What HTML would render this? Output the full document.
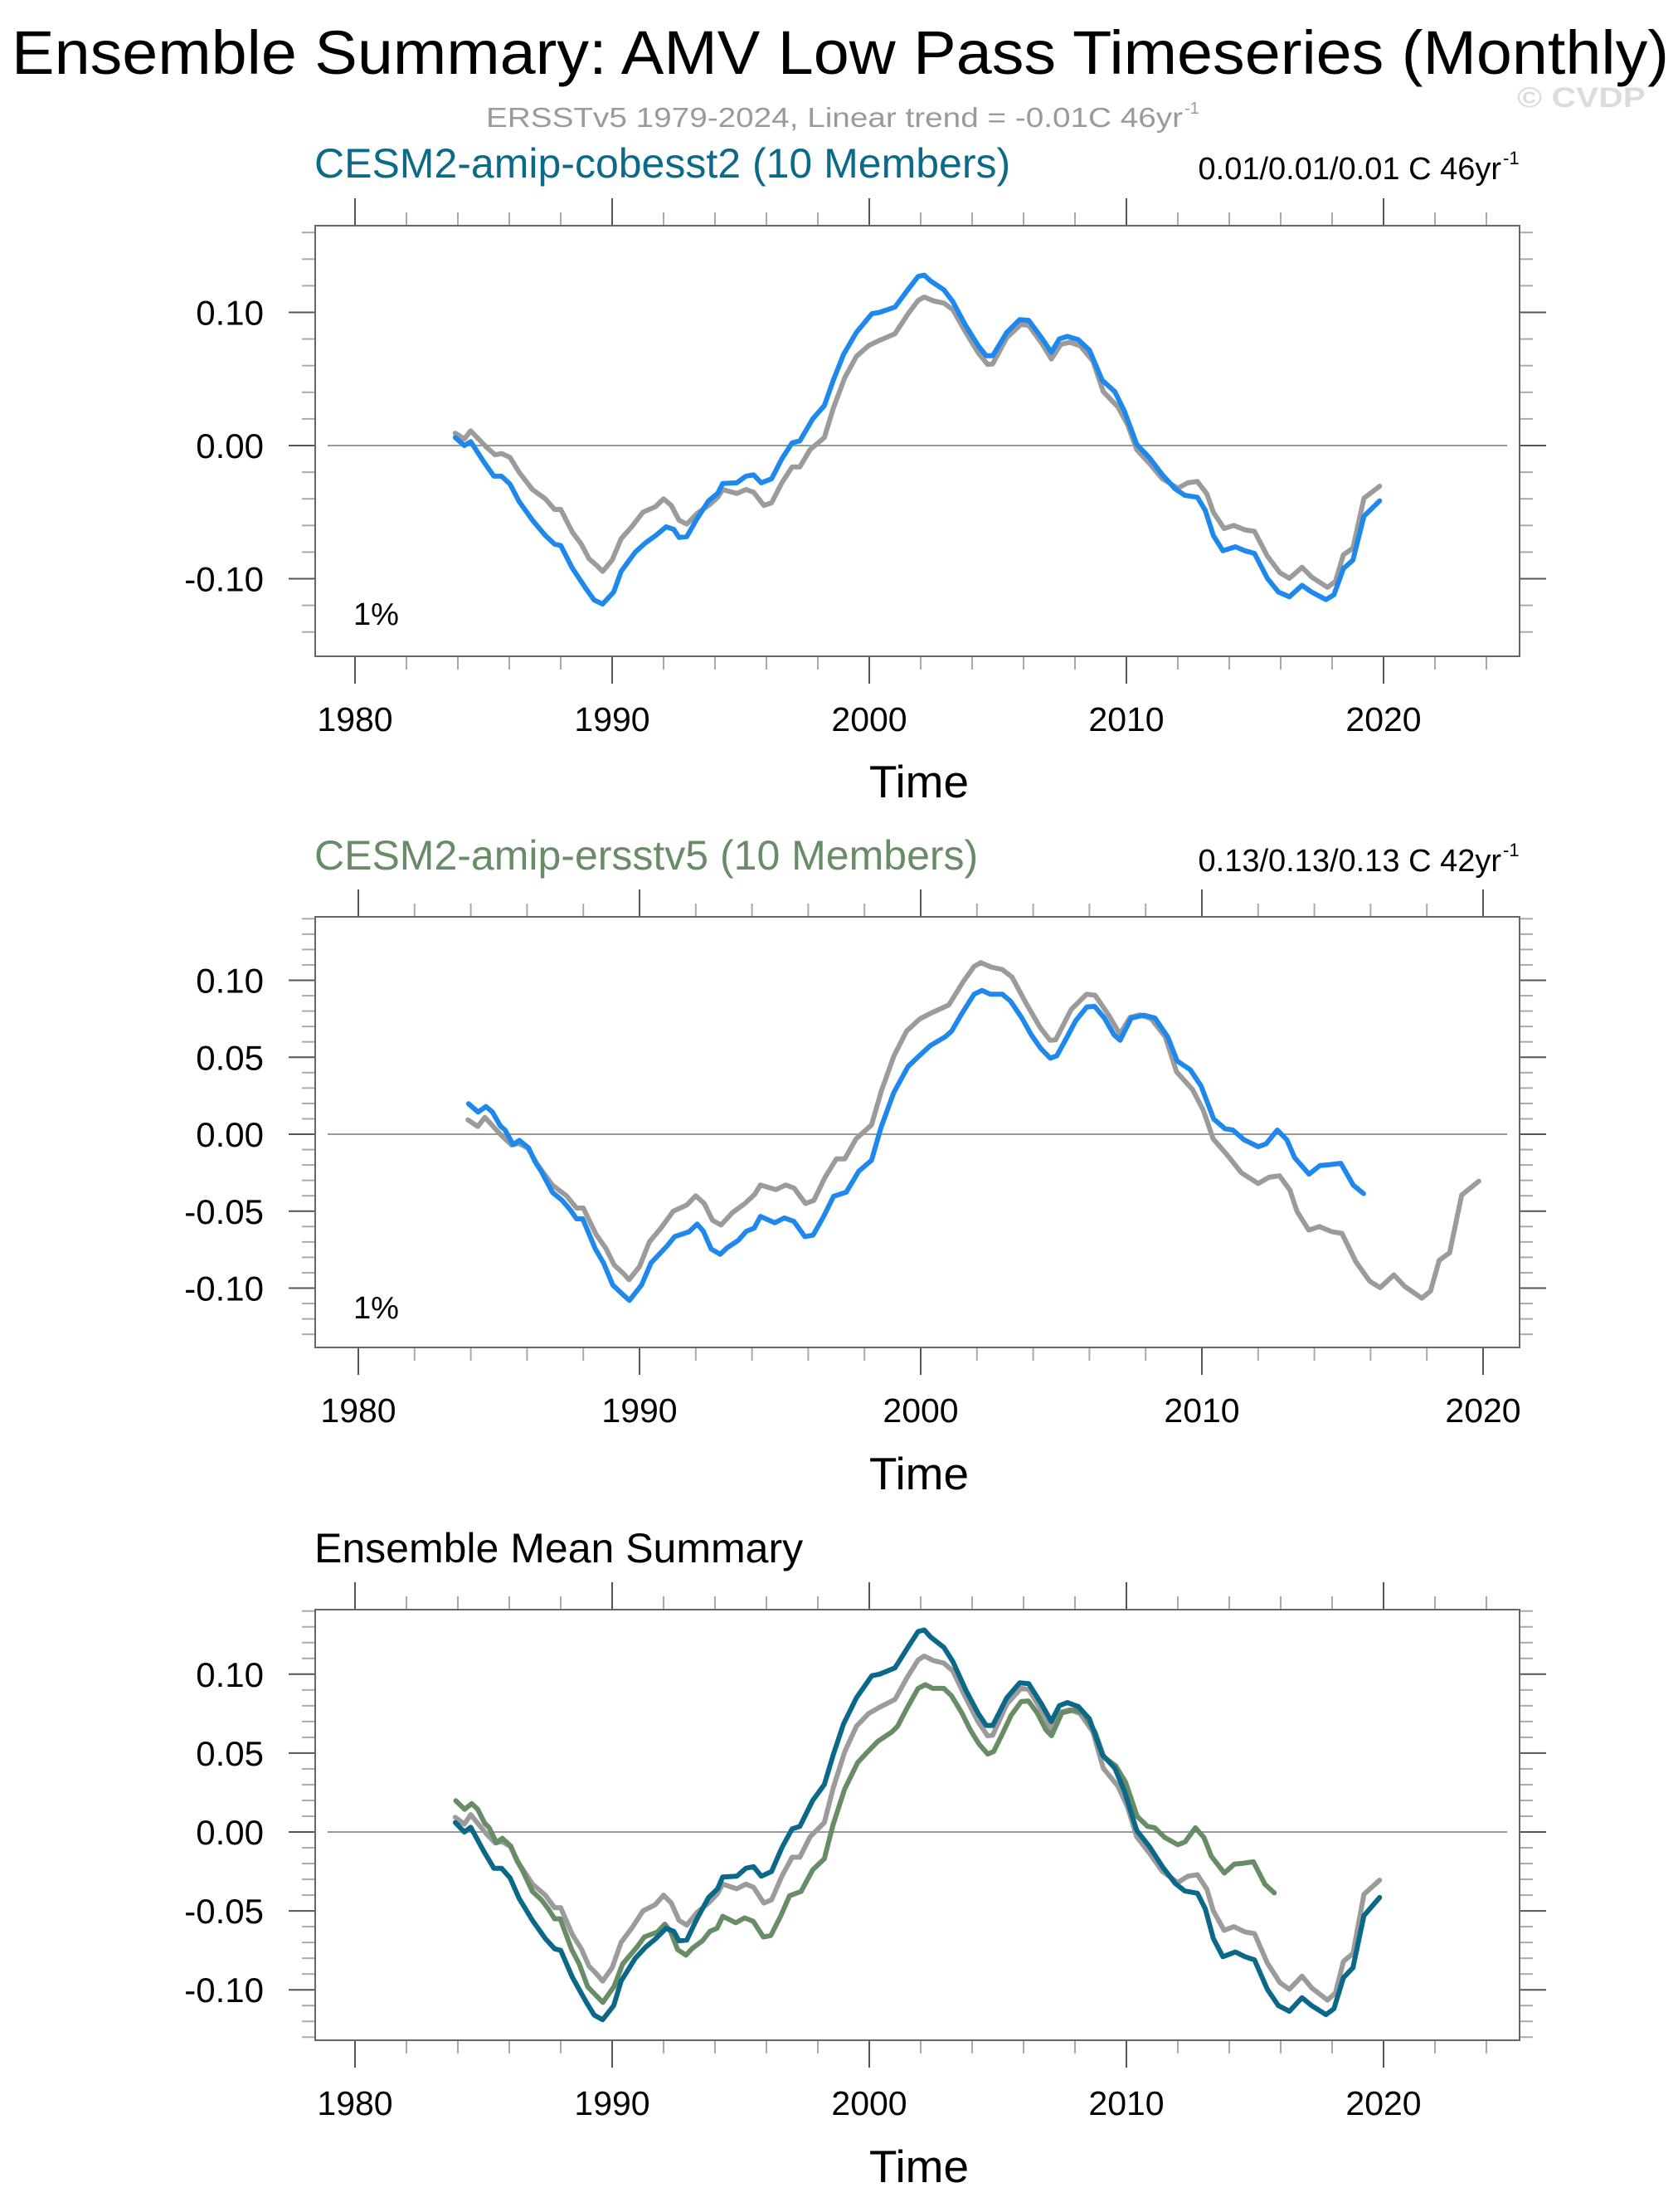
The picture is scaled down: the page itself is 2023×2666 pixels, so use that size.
<!DOCTYPE html>
<html><head><meta charset="utf-8">
<style>
html,body{margin:0;padding:0;background:#fff;}
svg{display:block;font-family:"Liberation Sans",sans-serif;}
</style></head>
<body>
<svg id="chart" width="2023" height="2666" viewBox="0 0 2023 2666" xmlns="http://www.w3.org/2000/svg">
<rect width="2023" height="2666" fill="#fff"/>
<text x="14" y="89" font-size="74" textLength="1998" lengthAdjust="spacingAndGlyphs" fill="#000">Ensemble Summary: AMV Low Pass Timeseries (Monthly)</text>
<text x="586" y="153" font-size="33" fill="#9a9a9a" textLength="840" lengthAdjust="spacingAndGlyphs">ERSSTv5 1979-2024, Linear trend = -0.01C 46yr</text>
<text x="1428" y="137" font-size="20" fill="#9a9a9a">-1</text>
<text x="1829" y="129" font-size="34" font-weight="bold" fill="#dcdcdc" textLength="155" lengthAdjust="spacingAndGlyphs">© CVDP</text>
<g id="plots"></g>
</svg>
<script>
// ---- data ----
const obsYears=[1983.9,1984.25,1984.5,1985.1,1985.45,1985.7,1986.03,1986.38,1986.9,1987.4,1987.76,1988.0,1988.45,1988.8,1989.1,1989.4,1989.63,1990.0,1990.35,1990.76,1991.2,1991.68,1992.0,1992.3,1992.6,1992.9,1993.3,1993.75,1994.1,1994.3,1994.85,1995.2,1995.5,1995.9,1996.2,1996.6,1997.0,1997.3,1997.7,1998.25,1998.6,1999.05,1999.5,1999.97,2000.4,2001.0,2001.5,2001.9,2002.14,2002.5,2002.9,2003.25,2003.75,2004.24,2004.6,2004.8,2005.35,2005.9,2006.2,2006.7,2007.08,2007.45,2007.8,2008.2,2008.7,2009.1,2009.67,2010.05,2010.4,2010.9,2011.4,2012.0,2012.39,2012.76,2013.13,2013.38,2013.8,2014.18,2014.61,2014.98,2015.48,2015.97,2016.34,2016.83,2017.2,2017.82,2018.13,2018.44,2018.81,2019.24,2019.85];
const obsVals=[0.0093,0.005,0.011,-0.001,-0.007,-0.006,-0.009,-0.020,-0.033,-0.040,-0.048,-0.048,-0.065,-0.074,-0.085,-0.090,-0.0945,-0.086,-0.070,-0.061,-0.050,-0.046,-0.040,-0.045,-0.056,-0.059,-0.051,-0.045,-0.039,-0.033,-0.036,-0.033,-0.035,-0.045,-0.043,-0.028,-0.016,-0.016,-0.003,0.006,0.028,0.051,0.067,0.075,0.079,0.084,0.0987,0.109,0.1115,0.1086,0.107,0.102,0.085,0.0696,0.061,0.0613,0.081,0.091,0.0903,0.077,0.065,0.076,0.0775,0.075,0.0633,0.0405,0.029,0.0156,-0.003,-0.0135,-0.025,-0.032,-0.028,-0.027,-0.0363,-0.050,-0.0623,-0.060,-0.0633,-0.0644,-0.083,-0.0955,-0.0997,-0.0914,-0.0987,-0.1065,-0.102,-0.082,-0.077,-0.0395,-0.0305];
const cobYears=[1983.9,1984.25,1984.5,1985.0,1985.4,1985.7,1986.03,1986.38,1986.9,1987.4,1987.76,1988.0,1988.45,1989.0,1989.3,1989.63,1990.06,1990.35,1990.9,1991.3,1991.7,1992.1,1992.4,1992.6,1992.9,1993.3,1993.75,1994.1,1994.3,1994.85,1995.2,1995.5,1995.8,1996.2,1996.6,1997.0,1997.3,1997.8,1998.25,1998.6,1999.0,1999.5,2000.1,2000.4,2001.0,2001.5,2001.9,2002.14,2002.39,2002.9,2003.25,2003.75,2004.24,2004.55,2004.8,2005.35,2005.85,2006.2,2006.7,2007.08,2007.39,2007.7,2008.13,2008.56,2009.06,2009.55,2009.92,2010.4,2010.9,2011.4,2011.9,2012.27,2012.76,2013.07,2013.38,2013.75,2014.24,2014.61,2014.98,2015.48,2015.91,2016.34,2016.83,2017.2,2017.76,2018.07,2018.44,2018.81,2019.24,2019.85];
const cobVals=[0.006,0.000,0.003,-0.012,-0.023,-0.023,-0.029,-0.042,-0.056,-0.0675,-0.074,-0.075,-0.092,-0.108,-0.116,-0.119,-0.110,-0.0945,-0.080,-0.073,-0.0675,-0.061,-0.063,-0.069,-0.0685,-0.055,-0.0415,-0.036,-0.0285,-0.028,-0.023,-0.022,-0.028,-0.025,-0.010,0.002,0.0035,0.020,0.030,0.049,0.0685,0.085,0.099,0.100,0.104,0.117,0.127,0.128,0.1235,0.117,0.108,0.090,0.075,0.0675,0.0675,0.085,0.0945,0.094,0.081,0.070,0.080,0.082,0.0795,0.0717,0.049,0.0405,0.026,0.001,-0.0093,-0.022,-0.0326,-0.0374,-0.0388,-0.0488,-0.0675,-0.079,-0.076,-0.079,-0.081,-0.0997,-0.110,-0.1136,-0.105,-0.110,-0.1157,-0.112,-0.0924,-0.086,-0.053,-0.0415];
const ersYears=[1983.92,1984.26,1984.54,1984.77,1985.05,1985.22,1985.5,1985.73,1986.06,1986.29,1986.5,1986.9,1987.25,1987.53,1987.76,1987.98,1988.43,1988.72,1989.05,1989.34,1989.64,1990.07,1990.41,1990.97,1991.25,1991.76,1992.05,1992.27,1992.55,1992.87,1993.12,1993.51,1993.8,1994.08,1994.3,1994.81,1995.15,1995.49,1995.88,1996.17,1996.56,1996.9,1997.35,1997.8,1998.25,1998.59,1999.04,1999.55,1999.89,2000.34,2000.88,2001.1,2001.45,2001.9,2002.18,2002.47,2002.9,2003.2,2003.6,2003.93,2004.27,2004.61,2004.84,2005.17,2005.51,2005.91,2006.19,2006.53,2006.87,2007.09,2007.49,2007.94,2008.33,2008.79,2009.12,2009.58,2009.97,2010.42,2010.82,2011.1,2011.5,2012.0,2012.28,2012.68,2013.02,2013.3,2013.81,2014.2,2014.54,2014.94,2015.39,2015.75];
const ersVals=[0.0198,0.0144,0.018,0.0144,0.0054,0.0027,-0.0068,-0.004,-0.009,-0.018,-0.024,-0.0377,-0.043,-0.049,-0.055,-0.055,-0.0746,-0.0836,-0.098,-0.103,-0.108,-0.098,-0.0836,-0.0728,-0.0665,-0.0634,-0.0584,-0.063,-0.0746,-0.078,-0.0737,-0.069,-0.063,-0.061,-0.0534,-0.0575,-0.0544,-0.0566,-0.0665,-0.0656,-0.053,-0.0404,-0.0377,-0.024,-0.017,0.0045,0.027,0.044,0.050,0.0575,0.0634,0.067,0.078,0.091,0.0934,0.091,0.091,0.0863,0.0755,0.0647,0.0557,0.0494,0.051,0.062,0.0737,0.0827,0.083,0.0755,0.0647,0.061,0.0755,0.0773,0.0755,0.063,0.0476,0.042,0.0314,0.0099,0.0036,0.0027,-0.0036,-0.0081,-0.0063,0.0027,-0.0036,-0.0153,-0.026,-0.0203,-0.0198,-0.0189,-0.0332,-0.0386];
const xTickYears=[1980,1990,2000,2010,2020];
const yTicksP1=[0.10,0.00,-0.10];
const yTicksP23=[0.10,0.05,0.00,-0.05,-0.10];

const NS="http://www.w3.org/2000/svg";
const root=document.getElementById('plots');
function mk(tag,attrs,parent){const e=document.createElementNS(NS,tag);for(const k in attrs)e.setAttribute(k,attrs[k]);(parent||root).appendChild(e);return e;}

const GREY="#9b9b9b", BLUE="#1e88ec", TEAL="#0b6888", GREEN="#688c66";

function panel(cfg){
  const g=mk('g',{});
  
  
  const L=380,R=1832,T=cfg.top,B=cfg.bottom;
  const xs=y=>cfg.x1980+(y-1980)*cfg.pxYear;
  const ys=v=>cfg.y0-v*cfg.pxUnit;
  const t=mk('text',{x:379,y:cfg.titleY,'font-size':50,fill:cfg.titleColor},g);
  t.textContent=cfg.title;
  
  
  if(cfg.right){
    const rt=mk('text',{x:1810,y:cfg.titleY+2,'font-size':38,'text-anchor':'end',fill:'#000'},g);
    rt.textContent=cfg.right;
    
    
    const sup=mk('text',{x:1812,y:cfg.titleY-16,'font-size':22,fill:'#000'},g);
    sup.textContent='-1';
    
    
  }
  for(let yr=1978;yr<=2030;yr+=2){
    const x=xs(yr); if(x<L-1||x>R+1)continue;
    const major=yr%10===0;
    const len=major?33:16;
    const c=major?'#555':'#aaa';
    const a=mk('line',{x1:x,x2:x,y1:T,y2:T-len,stroke:c,'stroke-width':2},g);
    
    
    const b=mk('line',{x1:x,x2:x,y1:B,y2:B+len,stroke:c,'stroke-width':2},g);
    
    
  }
  xTickYears.forEach(yr=>{
    const lb=mk('text',{x:xs(yr),y:cfg.xLabY,'font-size':41,'text-anchor':'middle',fill:'#000'},g);
    lb.textContent=String(yr);
    
    
  });
  const xt=mk('text',{x:1108,y:cfg.timeY,'font-size':55,'text-anchor':'middle',fill:'#000'},g);
  xt.textContent='Time';
  
  
  const step=cfg.minorStep;
  for(let i=-20;i<=20;i++){
    const v=Math.round(i*step*1000)/1000;
    const y=ys(v); if(y<T-1||y>B+1)continue;
    const major=cfg.yTicks.some(m=>Math.abs(m-v)<1e-6);
    const len=major?32:16, c=major?'#555':'#aaa';
    const a=mk('line',{x1:L,x2:L-len,y1:y,y2:y,stroke:c,'stroke-width':2},g);
    
    
    const b=mk('line',{x1:R,x2:R+len,y1:y,y2:y,stroke:c,'stroke-width':2},g);
    
    
  }
  cfg.yTicks.forEach(v=>{
    const lb=mk('text',{x:318,y:ys(v)+15,'font-size':42,'text-anchor':'end',fill:'#000'},g);
    lb.textContent=v.toFixed(2);
    
    
  });
  const z=mk('line',{x1:L+15,x2:R-15,y1:ys(0),y2:ys(0),stroke:'#999','stroke-width':2},g);
  
  
  const fr=mk('rect',{x:L,y:T,width:R-L,height:B-T,fill:'none',stroke:'#666','stroke-width':2},g);
  
  
  if(cfg.pct){
    const p=mk('text',{x:426,y:cfg.pctY,'font-size':38,fill:'#000'},g);
    p.textContent='1%';
    
    
  }
  cfg.series.forEach(s=>{
    const d=s.years.map((yr,i)=>(i?'L':'M')+xs(yr).toFixed(1)+' '+ys(s.vals[i]).toFixed(1)).join(' ');
    const p=mk('path',{d:d,fill:'none',stroke:s.color,'stroke-width':6,'stroke-linejoin':'round','stroke-linecap':'round'},g);
    
    
  });
}

panel({name:'cobesst2-panel',top:272,bottom:791,x1980:428,pxYear:31,y0:537,pxUnit:1605,
  title:'CESM2-amip-cobesst2 (10 Members)',titleColor:'#0b6a8a',titleY:214,
  right:'0.01/0.01/0.01 C 46yr',xLabY:881,timeY:961,yTicks:yTicksP1,minorStep:0.02,pct:true,pctY:753,
  series:[{years:obsYears,vals:obsVals,color:GREY,name:'obs-line'},{years:cobYears,vals:cobVals,color:BLUE,name:'cobesst2-line'}]});
panel({name:'ersstv5-panel',top:1105,bottom:1624,x1980:432,pxYear:33.9,y0:1367,pxUnit:1855,
  title:'CESM2-amip-ersstv5 (10 Members)',titleColor:'#688c66',titleY:1048,
  right:'0.13/0.13/0.13 C 42yr',xLabY:1714,timeY:1795,yTicks:yTicksP23,minorStep:0.01,pct:true,pctY:1589,
  series:[{years:obsYears,vals:obsVals,color:GREY,name:'obs-line'},{years:ersYears,vals:ersVals,color:BLUE,name:'ersstv5-line'}]});
panel({name:'ensemble-mean-panel',top:1940,bottom:2459,x1980:428,pxYear:31,y0:2208,pxUnit:1902,
  title:'Ensemble Mean Summary',titleColor:'#000',titleY:1883,
  right:null,xLabY:2549,timeY:2630,yTicks:yTicksP23,minorStep:0.01,pct:false,
  series:[{years:obsYears,vals:obsVals,color:GREY,name:'obs-mean-line'},{years:ersYears,vals:ersVals,color:GREEN,name:'ersstv5-mean-line'},{years:cobYears,vals:cobVals,color:TEAL,name:'cobesst2-mean-line'}]});
</script>
</body></html>
